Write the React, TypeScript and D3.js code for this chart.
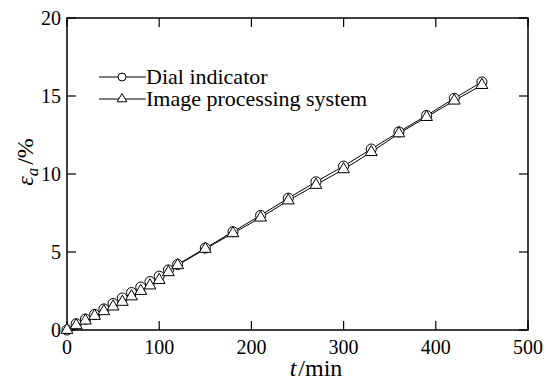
import React from "react";
import * as d3 from "d3";

// time (min)
const time = [0, 10, 20, 30, 40, 50, 60, 70, 80, 90, 100, 110, 120, 150, 180, 210, 240, 270, 300, 330, 360, 390, 420, 450];
// axial strain (%)
const dialIndicator = [0, 0.4, 0.7, 1.0, 1.35, 1.7, 2.05, 2.4, 2.75, 3.1, 3.45, 3.85, 4.2, 5.25, 6.3, 7.35, 8.45, 9.5, 10.5, 11.6, 12.7, 13.75, 14.85, 15.9];
const imageSystem = [0, 0.3, 0.6, 0.9, 1.2, 1.5, 1.8, 2.15, 2.5, 2.85, 3.2, 3.7, 4.15, 5.2, 6.2, 7.2, 8.3, 9.3, 10.3, 11.4, 12.6, 13.65, 14.7, 15.7];
const xTicks = [0, 100, 200, 300, 400, 500];
const yTicks = [0, 5, 10, 15, 20];
const seriesNames = ["Dial indicator", "Image processing system"];

const FONT = "Liberation Serif";

const W = 546;
const H = 381;
const margin = { top: 18, right: 18, bottom: 51, left: 67 };
const width = W - margin.left - margin.right;
const height = H - margin.top - margin.bottom;
const tickLen = 9;

const x = d3.scaleLinear().domain([0, 500]).range([0, width]);
const y = d3.scaleLinear().domain([0, 20]).range([height, 0]);

const line = d3
  .line<number>()
  .x((_, i) => x(time[i]))
  .y((d) => y(d));

const series = [
  { name: seriesNames[0], values: dialIndicator, symbol: d3.symbolCircle, size: 80, legendSize: 50 },
  { name: seriesNames[1], values: imageSystem, symbol: d3.symbolTriangle, size: 60, legendSize: 40 },
];

const App = () => {
  const txt = { fontFamily: FONT, fill: "#000" } as React.CSSProperties;
  return (
    <svg width={W} height={H} style={{ position: "absolute", left: 0, top: 0, background: "#fff" }}>
      <g transform={`translate(${margin.left},${margin.top})`}>
        {/* x ticks, bottom and top, inward */}
        {xTicks.map((t) => (
          <g key={`x${t}`}>
            <line x1={x(t)} x2={x(t)} y1={height} y2={height - tickLen} stroke="#000" strokeWidth={1.2} />
            <line x1={x(t)} x2={x(t)} y1={0} y2={tickLen} stroke="#000" strokeWidth={1.2} />
            <text x={x(t)} y={height + 24} textAnchor="middle" style={{ ...txt, fontSize: 20 }}>
              {t}
            </text>
          </g>
        ))}
        {/* y ticks, left and right, inward */}
        {yTicks.map((t) => (
          <g key={`y${t}`}>
            <line x1={0} x2={tickLen} y1={y(t)} y2={y(t)} stroke="#000" strokeWidth={1.2} />
            <line x1={width} x2={width - tickLen} y1={y(t)} y2={y(t)} stroke="#000" strokeWidth={1.2} />
            <text x={-6} y={y(t)} dy="0.35em" textAnchor="end" style={{ ...txt, fontSize: 20 }}>
              {t}
            </text>
          </g>
        ))}
        <rect width={width} height={height} fill="none" stroke="#000" strokeWidth={1.5} />

        {series.map((s) => (
          <path key={`l${s.name}`} d={line(s.values) || ""} fill="none" stroke="#000" strokeWidth={1} />
        ))}
        {series.map((s) =>
          s.values.map((v, i) => (
            <path
              key={`${s.name}${i}`}
              d={d3.symbol().type(s.symbol).size(s.size)() || ""}
              transform={`translate(${x(time[i])},${y(v)})`}
              fill="#fff"
              stroke="#000"
              strokeWidth={1}
            />
          ))
        )}
      </g>

      {/* legend */}
      <g transform="translate(99,77)">
        {series.map((s, i) => (
          <g key={`lg${s.name}`} transform={`translate(0,${i * 22})`}>
            <line x1={0} x2={47} stroke="#000" strokeWidth={1} />
            <path
              d={d3.symbol().type(s.symbol).size(s.legendSize)() || ""}
              transform="translate(23,0)"
              fill="#fff"
              stroke="#000"
            />
            <text x={47} y={7} style={{ ...txt, fontSize: 22 }}>
              {s.name}
            </text>
          </g>
        ))}
      </g>

      {/* x label */}
      <text x={316} y={376} textAnchor="middle" style={{ ...txt, fontSize: 24 }}>
        <tspan style={{ fontStyle: "italic" }}>t</tspan>
        <tspan dx={2}>/min</tspan>
      </text>

      {/* y label */}
      <text transform="translate(33,162) rotate(-90)" textAnchor="middle" style={{ ...txt, fontSize: 24 }}>
        <tspan style={{ fontStyle: "italic" }}>ε</tspan>
        <tspan style={{ fontStyle: "italic", fontSize: 17 }} dy={5}>
          a
        </tspan>
        <tspan dy={-5} dx={3}>
          /%
        </tspan>
      </text>
    </svg>
  );
};

export default App;
